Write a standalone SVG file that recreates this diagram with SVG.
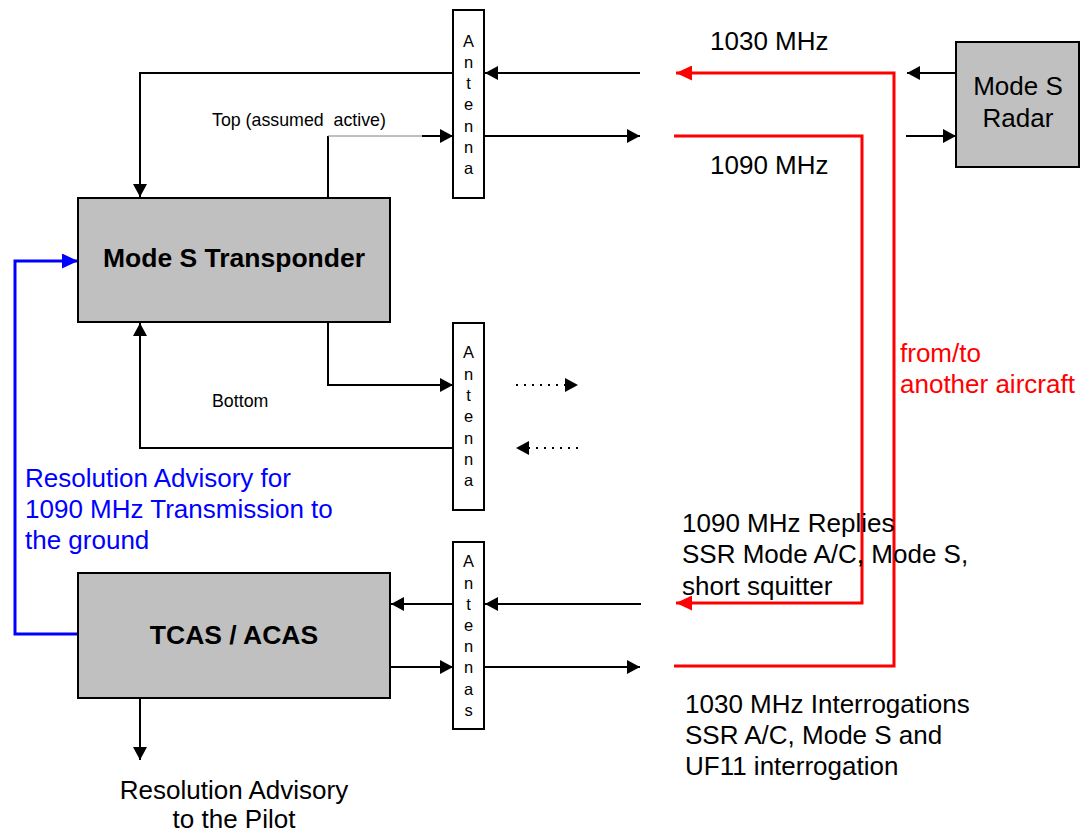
<svg xmlns="http://www.w3.org/2000/svg" width="1084" height="834" viewBox="0 0 1084 834">
<style>
text{font-family:"Liberation Sans",Arial,sans-serif;fill:#000}
.big{font-size:26px}
.bold{font-size:26.5px;font-weight:bold}
.small{font-size:17.8px;white-space:pre}
.ant{font-size:16.5px;text-anchor:middle}
.box{fill:#c0c0c0;stroke:#000;stroke-width:2}
.abox{fill:#fff;stroke:#000;stroke-width:2}
.k{fill:none;stroke:#000;stroke-width:2}
.thin{fill:none;stroke:#808080;stroke-width:1}
.r{fill:none;stroke:#ff0000;stroke-width:3}
.b{fill:none;stroke:#0000ff;stroke-width:3}
.dot{fill:none;stroke:#000;stroke-width:2;stroke-dasharray:2 6}
</style>
<defs>
<marker id="ak" markerUnits="userSpaceOnUse" markerWidth="13" markerHeight="14" refX="13" refY="7" orient="auto"><path d="M0,0 L13,7 L0,14 z" fill="#000"/></marker>
<marker id="ar" markerUnits="userSpaceOnUse" markerWidth="16" markerHeight="15" refX="16" refY="7.5" orient="auto"><path d="M0,0 L16,7.5 L0,15 z" fill="#ff0000"/></marker>
<marker id="ab" markerUnits="userSpaceOnUse" markerWidth="16" markerHeight="15" refX="16" refY="7.5" orient="auto"><path d="M0,0 L16,7.5 L0,15 z" fill="#0000ff"/></marker>
</defs>

<g id="connectors">
<line class="k" x1="640" y1="73" x2="485" y2="73" marker-end="url(#ak)"/>
<polyline class="k" points="453,73 140,73 140,197" marker-end="url(#ak)"/>
<polyline class="k" points="328,198 328,136"/>
<line class="thin" x1="328" y1="136" x2="422" y2="136"/>
<line class="k" x1="422" y1="136" x2="453" y2="136" marker-end="url(#ak)"/>
<line class="k" x1="484" y1="136" x2="640" y2="136" marker-end="url(#ak)"/>
<path class="r" d="M674,666 H894 V73 H676" marker-end="url(#ar)"/>
<path class="r" d="M674,136 H862 V603 H676" marker-end="url(#ar)"/>
<line class="k" x1="956" y1="73" x2="907" y2="73" marker-end="url(#ak)"/>
<line class="k" x1="906" y1="136" x2="956" y2="136" marker-end="url(#ak)"/>
<polyline class="k" points="328,322 328,385 453,385" marker-end="url(#ak)"/>
<polyline class="k" points="453,448 140,448 140,323" marker-end="url(#ak)"/>
<line class="dot" x1="516" y1="385" x2="578" y2="385" marker-end="url(#ak)"/>
<line class="dot" x1="578" y1="448" x2="516" y2="448" marker-end="url(#ak)"/>
<line class="k" x1="453" y1="604" x2="391" y2="604" marker-end="url(#ak)"/>
<line class="k" x1="641" y1="604" x2="485" y2="604" marker-end="url(#ak)"/>
<line class="k" x1="391" y1="667" x2="453" y2="667" marker-end="url(#ak)"/>
<line class="k" x1="484" y1="667" x2="640" y2="667" marker-end="url(#ak)"/>
<polyline class="b" points="78,634 15,634 15,261 78,261" marker-end="url(#ab)"/>
<line class="k" x1="140" y1="698" x2="140" y2="760" marker-end="url(#ak)"/>
</g>

<g id="transponder">
<rect class="box" x="78" y="198" width="312" height="124"/>
<text class="bold" x="234" y="267" text-anchor="middle">Mode S Transponder</text>
</g>

<g id="tcas">
<rect class="box" x="78" y="573" width="312" height="125"/>
<text class="bold" x="234" y="644" text-anchor="middle">TCAS / ACAS</text>
</g>

<g id="radar">
<rect class="box" x="956" y="42" width="123" height="125"/>
<text class="big" x="1018" y="95" text-anchor="middle">Mode S</text>
<text class="big" x="1018" y="127" text-anchor="middle">Radar</text>
</g>

<g id="antenna-top">
<rect class="abox" x="453" y="10" width="31" height="188"/>
<text class="ant" x="468.5" y="46.7">A<tspan x="468.5" dy="21.2">n</tspan><tspan x="468.5" dy="21.2">t</tspan><tspan x="468.5" dy="21.2">e</tspan><tspan x="468.5" dy="21.2">n</tspan><tspan x="468.5" dy="21.2">n</tspan><tspan x="468.5" dy="21.2">a</tspan></text>
</g>

<g id="antenna-bottom">
<rect class="abox" x="453" y="323" width="31" height="187"/>
<text class="ant" x="468.5" y="358.4">A<tspan x="468.5" dy="21.3">n</tspan><tspan x="468.5" dy="21.3">t</tspan><tspan x="468.5" dy="21.3">e</tspan><tspan x="468.5" dy="21.3">n</tspan><tspan x="468.5" dy="21.3">n</tspan><tspan x="468.5" dy="21.3">a</tspan></text>
</g>

<g id="antennas-tcas">
<rect class="abox" x="453" y="542" width="31" height="187"/>
<text class="ant" x="468.5" y="567.4">A<tspan x="468.5" dy="21.2">n</tspan><tspan x="468.5" dy="21.2">t</tspan><tspan x="468.5" dy="21.2">e</tspan><tspan x="468.5" dy="21.2">n</tspan><tspan x="468.5" dy="21.2">n</tspan><tspan x="468.5" dy="21.2">a</tspan><tspan x="468.5" dy="21.2">s</tspan></text>
</g>

<g id="labels">
<text class="small" x="212" y="125.7">Top (assumed  active)</text>
<text class="small" x="212" y="406.7">Bottom</text>
<text class="big" x="710" y="50">1030 MHz</text>
<text class="big" x="710" y="174">1090 MHz</text>
<text class="big" x="900" y="362" style="fill:#ff0000">from/to</text>
<text class="big" x="900" y="393" style="fill:#ff0000">another aircraft</text>
<text class="big" x="25" y="487" style="fill:#0000ff">Resolution Advisory for</text>
<text class="big" x="25" y="518" style="fill:#0000ff">1090 MHz Transmission to</text>
<text class="big" x="25" y="549" style="fill:#0000ff">the ground</text>
<text class="big" x="682" y="532">1090 MHz Replies</text>
<text class="big" x="682" y="563">SSR Mode A/C, Mode S,</text>
<text class="big" x="682" y="595">short squitter</text>
<text class="big" x="685" y="713">1030 MHz Interrogations</text>
<text class="big" x="685" y="744">SSR A/C, Mode S and</text>
<text class="big" x="685" y="775">UF11 interrogation</text>
<text class="big" x="234" y="799" text-anchor="middle">Resolution Advisory</text>
<text class="big" x="234" y="828" text-anchor="middle">to the Pilot</text>
</g>
</svg>
